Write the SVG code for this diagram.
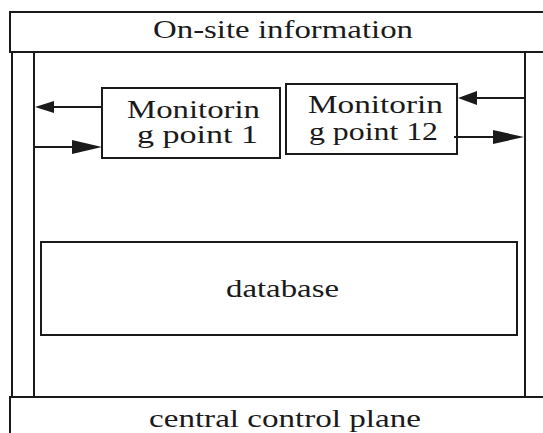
<svg xmlns="http://www.w3.org/2000/svg" width="543" height="433" viewBox="0 0 543 433">
<defs>
<style>
.box{fill:#fff;stroke:#1a1a1a;stroke-width:2}
.ln{stroke:#1a1a1a;stroke-width:2;fill:none}
.ah{fill:#1a1a1a}
</style>
</defs>
<rect width="543" height="433" fill="#fff"/>
<g font-family="'Liberation Serif', 'Times New Roman', Times, serif" font-size="25" fill="#1a1a1a">
<g id="frame">
<line class="ln" x1="12" y1="52" x2="12" y2="397"/>
<line class="ln" x1="34" y1="52" x2="34" y2="397"/>
<line class="ln" x1="525" y1="52" x2="525" y2="397"/>
</g>
<g id="onsite">
<rect class="box" x="10" y="12" width="545" height="40"/>
<text x="153" y="38" textLength="260" lengthAdjust="spacingAndGlyphs">On-site information</text>
</g>
<g id="central">
<rect class="box" x="10" y="397" width="545" height="50"/>
<text x="149" y="427" textLength="272" lengthAdjust="spacingAndGlyphs">central control plane</text>
</g>
<g id="mp1">
<rect class="box" x="102" y="88" width="178" height="70"/>
<text x="127" y="118" textLength="133" lengthAdjust="spacingAndGlyphs">Monitorin</text>
<text x="137" y="143" textLength="121" lengthAdjust="spacingAndGlyphs">g point 1</text>
</g>
<g id="mp12">
<rect class="box" x="286" y="84" width="171" height="70"/>
<text x="308" y="113" textLength="135" lengthAdjust="spacingAndGlyphs">Monitorin</text>
<text x="309" y="140" textLength="129" lengthAdjust="spacingAndGlyphs">g point 12</text>
</g>
<g id="database">
<rect class="box" x="41" y="242" width="476" height="93"/>
<text x="226" y="297" textLength="113" lengthAdjust="spacingAndGlyphs">database</text>
</g>
<g id="connectors">
<line class="ln" x1="102" y1="107" x2="50" y2="107"/>
<polygon class="ah" points="35,107 54,101 54,113"/>
<line class="ln" x1="34" y1="147" x2="76" y2="147"/>
<polygon class="ah" points="102,147 72,140 72,154"/>
<line class="ln" x1="525" y1="98" x2="473" y2="98"/>
<polygon class="ah" points="458,98 477,91 477,105"/>
<line class="ln" x1="454" y1="137" x2="498" y2="137"/>
<polygon class="ah" points="524,137 493,130 493,144"/>
</g>
</g>
</svg>
